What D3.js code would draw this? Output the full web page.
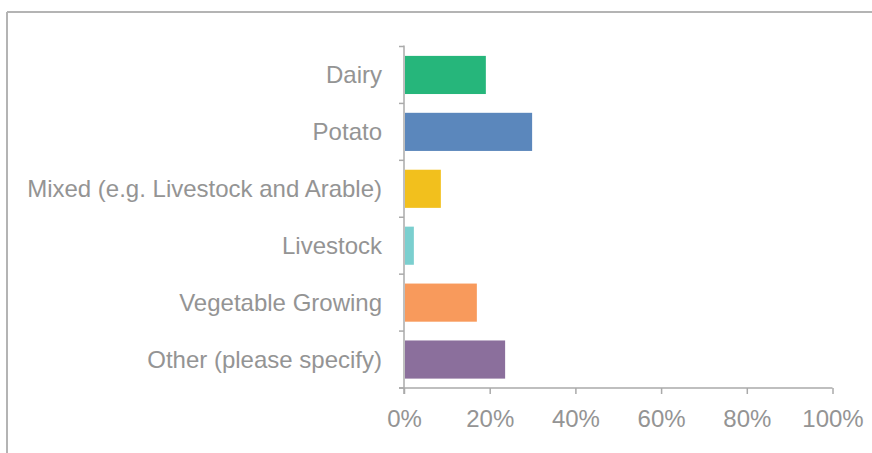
<!DOCTYPE html>
<html>
<head>
<meta charset="utf-8">
<script src="https://cdn.jsdelivr.net/npm/d3@7"></script>
<style>
    body { margin: 0; background: #fff; }
    .axis text { font-family: "Liberation Sans", Arial, sans-serif; font-size: 24px; fill: #949494; }
    .axis path, .axis line { stroke: #aaaaaa; stroke-width: 1.5px; }
</style>
</head>
<body>
<div id="chart"></div>
<script>
var categories = ["Dairy", "Potato", "Mixed (e.g. Livestock and Arable)", "Livestock", "Vegetable Growing", "Other (please specify)"];
var values = [19.1, 29.9, 8.6, 2.3, 17.0, 23.6];
var colors = ["#26B67B", "#5B87BC", "#F2C01D", "#7BCFCF", "#F89A5C", "#8B6F9C"];
var xTicks = [0, 20, 40, 60, 80, 100];

var width = 872,
    height = 453;

var margin = { top: 46.5, left: 404, right: 39.5, bottom: 65 };

var svg = d3.select("#chart").append("svg")
    .attr("width", width)
    .attr("height", height);

// frame (top + left only)
svg.append("line")
    .attr("x1", 7).attr("x2", width).attr("y1", 12).attr("y2", 12)
    .style("stroke", "#b4b4b4").style("stroke-width", "2px");
svg.append("line")
    .attr("x1", 7).attr("x2", 7).attr("y1", 12).attr("y2", height)
    .style("stroke", "#b4b4b4").style("stroke-width", "2px");

var xScale = d3.scaleLinear()
    .domain([0, 100])
    .range([margin.left, width - margin.right]);

var yScale = d3.scaleBand()
    .domain(categories)
    .range([margin.top, height - margin.bottom])
    .paddingInner(0.33)
    .paddingOuter(0.165);

// y axis with ticks at band boundaries
var step = yScale.step();
var yAxisG = svg.append("g").attr("class", "axis y");
yAxisG.append("line")
    .attr("x1", margin.left).attr("x2", margin.left)
    .attr("y1", margin.top - 1).attr("y2", height - margin.bottom + 6);
yAxisG.selectAll(".ytick")
    .data(d3.range(categories.length + 1))
    .enter()
    .append("line")
    .attr("class", "ytick")
    .attr("x1", margin.left - 5)
    .attr("x2", margin.left)
    .attr("y1", function(i) { return margin.top + i * step; })
    .attr("y2", function(i) { return margin.top + i * step; });

yAxisG.selectAll(".ylabel")
    .data(categories)
    .enter()
    .append("text")
    .attr("class", "ylabel")
    .attr("x", margin.left - 22)
    .attr("y", function(d) { return yScale(d) + yScale.bandwidth() / 2; })
    .attr("dy", "0.35em")
    .attr("text-anchor", "end")
    .text(function(d) { return d; });

// x axis
var xAxis = d3.axisBottom(xScale)
    .tickValues(xTicks)
    .tickSizeInner(6)
    .tickSizeOuter(0)
    .tickPadding(16)
    .tickFormat(function(d) { return d + "%"; });

svg.append("g")
    .attr("class", "axis x")
    .attr("transform", "translate(0," + (height - margin.bottom) + ")")
    .call(xAxis)
    .call(function(g) { g.select(".domain").attr("d", "M" + (margin.left - 5) + ",0H" + xScale(100)); })
    .selectAll("text")
    .attr("font-family", null)
    .attr("font-size", null)
    .attr("fill", null);

// bars
svg.append("g").selectAll("rect")
    .data(categories)
    .enter()
    .append("rect")
    .attr("x", xScale(0) + 1)
    .attr("y", function(d) { return yScale(d); })
    .attr("width", function(d, i) { return xScale(values[i]) - xScale(0) - 1; })
    .attr("height", yScale.bandwidth())
    .attr("fill", function(d, i) { return colors[i]; });
</script>
</body>
</html>
